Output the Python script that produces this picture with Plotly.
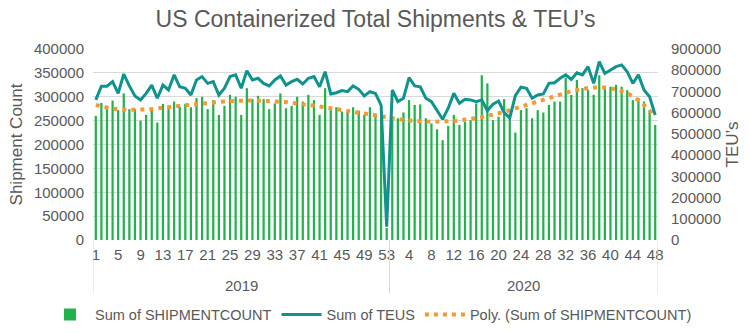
import numpy as np
import plotly.graph_objects as go

# ---- data ----
years = ["2019", "2020"]
weeks_per_year = [53, 48]

shipments_2019 = [260000, 287000, 278000, 292000, 272000, 307000, 274000, 274000, 250000, 262000,
                  276000, 246000, 285000, 276000, 290000, 279000, 285000, 278000, 297000, 300000,
                  274000, 293000, 262000, 281000, 304000, 300000, 262000, 318000, 295000, 302000,
                  295000, 274000, 286000, 307000, 276000, 281000, 300000, 290000, 304000, 293000,
                  262000, 318000, 272000, 278000, 269000, 269000, 278000, 271000, 262000, 278000,
                  265000, 260000, 25000]
shipments_2020 = [255000, 255000, 267000, 293000, 283000, 284000, 255000, 244000, 232000, 209000,
                  239000, 262000, 241000, 248000, 251000, 286000, 345000, 328000, 251000, 258000,
                  295000, 265000, 225000, 272000, 276000, 255000, 272000, 267000, 283000, 290000,
                  290000, 340000, 304000, 335000, 318000, 314000, 304000, 345000, 318000, 321000,
                  325000, 321000, 314000, 293000, 297000, 290000, 272000, 241000]

teus_2019 = [660000, 725000, 725000, 746000, 691000, 782000, 726000, 679000, 660000, 691000,
             730000, 668000, 730000, 707000, 778000, 722000, 715000, 683000, 754000, 770000,
             738000, 746000, 683000, 715000, 770000, 778000, 715000, 798000, 754000, 762000,
             738000, 726000, 754000, 773000, 730000, 746000, 757000, 735000, 762000, 770000,
             722000, 793000, 688000, 694000, 704000, 699000, 726000, 710000, 679000, 699000,
             690000, 636000, 63000]
teus_2020 = [707000, 652000, 668000, 765000, 726000, 722000, 668000, 652000, 613000, 569000,
             621000, 691000, 644000, 663000, 660000, 652000, 660000, 610000, 640000, 655000,
             600000, 575000, 680000, 720000, 715000, 668000, 683000, 688000, 738000, 741000,
             762000, 778000, 757000, 788000, 778000, 817000, 738000, 840000, 785000, 801000,
             817000, 825000, 793000, 738000, 778000, 707000, 675000, 589000]

label_every = 4
left_ticks = [0, 50000, 100000, 150000, 200000, 250000, 300000, 350000, 400000]
right_ticks = [0, 100000, 200000, 300000, 400000, 500000, 600000, 700000, 800000, 900000]

# ---- derived ----
shipments = shipments_2019 + shipments_2020
teus = teus_2019 + teus_2020
week_nums = list(range(1, weeks_per_year[0] + 1)) + list(range(1, weeks_per_year[1] + 1))
xpos = np.arange(1, len(shipments) + 1)

# Excel-style polynomial trendline (order 6) of the shipment series
coef = np.polyfit(xpos, shipments, 6)
xs = np.linspace(1, len(shipments), 400)
trend = np.polyval(coef, xs)

# tick labels: every 4th category across the whole axis
tickvals = [int(i) for i in xpos[::label_every]]
ticktext = [str(week_nums[i - 1]) for i in tickvals]

grey = "#595959"
font = "Liberation Sans, Arial, sans-serif"

fig = go.Figure()
fig.add_trace(go.Bar(x=xpos, y=shipments, name="Sum of SHIPMENTCOUNT",
                     marker=dict(color="#22B14C", line=dict(width=0))))
fig.add_trace(go.Scatter(x=xpos, y=teus, name="Sum of TEUS", yaxis="y2", mode="lines",
                         line=dict(color="#11938D", width=3)))
fig.add_trace(go.Scatter(x=xs, y=trend, name="Poly. (Sum of SHIPMENTCOUNT)", mode="lines",
                         line=dict(color="#F39A34", width=4, dash="4px,5px")))

# year separators and labels under the axis
shapes = []
annotations = []
start = 0
bounds = [0.5]
for yr, n in zip(years, weeks_per_year):
    annotations.append(dict(x=start + (n + 1) / 2, y=-0.236, xref="x", yref="paper",
                            text=yr, showarrow=False, yanchor="middle",
                            font=dict(size=15, color=grey, family=font)))
    start += n
    bounds.append(start + 0.5)
for b in bounds:
    shapes.append(dict(type="line", x0=b, x1=b, xref="x", yref="paper", y0=0, y1=-0.28,
                       line=dict(color="#D9D9D9", width=1)))

fig.update_layout(
    width=749, height=333,
    margin=dict(l=93, r=91, t=49, b=93, autoexpand=False),
    paper_bgcolor="white", plot_bgcolor="white",
    font=dict(family=font, color=grey, size=15),
    title=dict(text="US Containerized Total Shipments &amp; TEU’s", x=0.5, xanchor="center",
               y=0.943, yanchor="middle", xref="paper",
               font=dict(size=23, color=grey, family=font)),
    bargap=0.6,
    showlegend=True,
    legend=dict(orientation="h", x=-0.085, xanchor="left", y=-0.39, yanchor="middle",
                xref="paper", yref="paper", font=dict(size=14.5, color=grey),
                itemwidth=40, traceorder="normal", tracegroupgap=0,
                bgcolor="rgba(0,0,0,0)"),
    xaxis=dict(range=[0.5, len(shipments) + 0.5], tickvals=tickvals, ticktext=ticktext,
               showgrid=False, zeroline=False, showline=False, ticks="",
               tickfont=dict(size=15, color=grey), ticklabelstandoff=4),
    yaxis=dict(range=[0, 400000], tickvals=left_ticks, tickformat="d",
               showgrid=True, gridcolor="#D9D9D9", gridwidth=1, zeroline=False,
               tickfont=dict(size=15, color=grey), ticklabelstandoff=8,
               title=dict(text="Shipment Count", font=dict(size=17, color=grey), standoff=6)),
    yaxis2=dict(range=[0, 900000], tickvals=right_ticks, tickformat="d", overlaying="y",
                side="right", showgrid=False, zeroline=False,
                tickfont=dict(size=15, color=grey), ticklabelstandoff=12,
                title=dict(text="TEU’s", font=dict(size=17, color=grey), standoff=6)),
    shapes=shapes, annotations=annotations,
)

fig.write_html("out.html")
